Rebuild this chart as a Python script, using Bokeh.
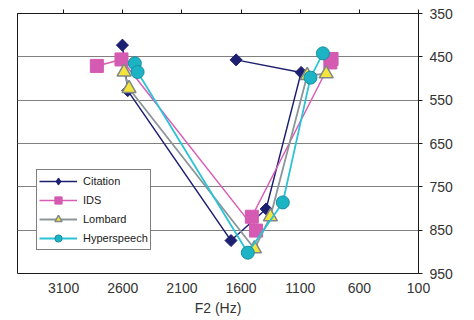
import math
from bokeh.plotting import figure
from bokeh.models import Range1d, LinearAxis, FixedTicker, Legend, LegendItem, Label
from bokeh.embed import file_html
from bokeh.resources import INLINE

# ---- data ----
x_ticks = [3100, 2600, 2100, 1600, 1100, 600, 100]
y_ticks = [350, 450, 550, 650, 750, 850, 950]

series_names = ["Citation", "IDS", "Lombard", "Hyperspeech"]
citation_f2 = [2603, 2558, 1685, 1388, 1092, 1642]
citation_f1 = [423, 528, 874, 801, 486, 457]
ids_f2 = [2819, 2611, 1473, 1509, 845, 835]
ids_f1 = [471, 456, 851, 819, 463, 455]
lombard_f2 = [2589, 2547, 1487, 1352, 1041, 880]
lombard_f1 = [485, 523, 893, 819, 493, 489]
hyper_f2 = [2498, 2475, 1543, 1247, 1013, 908]
hyper_f1 = [465, 485, 902, 786, 498, 442]

FONT = "Liberation Sans"
TXT = "#333333"
NAVY = "#1D1F70"

p = figure(width=474, height=320, output_backend="svg", toolbar_location=None,
           x_range=Range1d(3490, 100), y_range=Range1d(950, 350),
           y_axis_location="right",
           min_border_left=17, min_border_top=13, min_border_right=56, min_border_bottom=47)
p.outline_line_color = "#1a1a1a"
p.outline_line_width = 1
p.background_fill_color = "white"
p.border_fill_color = "white"

# grid
p.xgrid.visible = False
p.ygrid.ticker = FixedTicker(ticks=y_ticks)
p.ygrid.grid_line_color = "#808080"
p.ygrid.grid_line_width = 1

# bottom axis: labels only
xa = p.xaxis[0]
xa.ticker = FixedTicker(ticks=x_ticks)
xa.axis_line_color = None
xa.major_tick_line_color = None
xa.minor_tick_line_color = None
xa.major_tick_out = 0
xa.major_tick_in = 0
xa.major_label_standoff = 9
xa.major_label_text_font = FONT
xa.major_label_text_font_size = "14px"
xa.major_label_text_color = TXT
xa.axis_label = "F2 (Hz)"
xa.axis_label_text_font = FONT
xa.axis_label_text_font_size = "14px"
xa.axis_label_text_font_style = "normal"
xa.axis_label_text_color = TXT
xa.axis_label_standoff = 4

# top axis: tick marks only (drawn as minor ticks so no labels appear)
top = LinearAxis(ticker=FixedTicker(ticks=[], minor_ticks=x_ticks),
                 major_tick_line_color=None, major_tick_out=0, major_tick_in=0,
                 minor_tick_out=4, minor_tick_in=0, minor_tick_line_color="#1a1a1a",
                 axis_line_color="#1a1a1a", major_label_standoff=0)
p.add_layout(top, "above")

# right axis
ya = p.yaxis[0]
ya.ticker = FixedTicker(ticks=y_ticks)
ya.axis_line_color = "#1a1a1a"
ya.major_tick_line_color = "#1a1a1a"
ya.minor_tick_line_color = None
ya.major_tick_out = 4
ya.major_tick_in = 0
ya.major_label_standoff = 7
ya.major_label_text_font = FONT
ya.major_label_text_font_size = "14px"
ya.major_label_text_color = TXT

# series
l1 = p.line(citation_f2, citation_f1, line_color=NAVY, line_width=1.5)
m1 = p.scatter(citation_f2, citation_f1, marker="square", angle=math.pi / 4, size=8.5,
               fill_color=NAVY, line_color=NAVY)
# diamond swatch for the legend (zero size on the plot itself)
m1_key = p.scatter(citation_f2, citation_f1, marker="diamond", size=0,
                   fill_color=NAVY, line_color=NAVY)
l2 = p.line(ids_f2, ids_f1, line_color="#D95CB6", line_width=1.5)
m2 = p.scatter(ids_f2, ids_f1, marker="square", size=13,
               fill_color="#D45AB2", line_color="#D45AB2")
l3 = p.line(lombard_f2, lombard_f1, line_color="#8C9597", line_width=1.8)
m3 = p.scatter(lombard_f2, lombard_f1, marker="triangle", size=14,
               fill_color="#F4E53C", line_color="#7F8788", line_width=1.5)
l4 = p.line(hyper_f2, hyper_f1, line_color="#2BC3D5", line_width=1.8)
m4 = p.scatter(hyper_f2, hyper_f1, marker="circle", size=13,
               fill_color="#1CB4C4", line_color="#158FA0", line_width=1)

items = [LegendItem(label=series_names[0], renderers=[l1, m1_key]),
         LegendItem(label=series_names[1], renderers=[l2, m2]),
         LegendItem(label=series_names[2], renderers=[l3, m3]),
         LegendItem(label=series_names[3], renderers=[l4, m4])]
legend = Legend(items=items, location=(19, 23), border_line_color="black",
                border_line_width=1, background_fill_color="white", background_fill_alpha=1,
                padding=2, margin=0, spacing=1, glyph_width=38, glyph_height=18,
                label_height=18, label_standoff=6, label_text_font=FONT,
                label_text_font_size="11px", label_text_color="#1a1a1a")
p.add_layout(legend)

# right-side axis title
p.add_layout(Label(x=-295, y=650, text="F1 (Hz)", angle=math.pi / 2,
                   text_align="center", text_baseline="middle", text_font=FONT,
                   text_font_size="14px", text_color=TXT))

open("out.html", "w").write(file_html(p, INLINE))
